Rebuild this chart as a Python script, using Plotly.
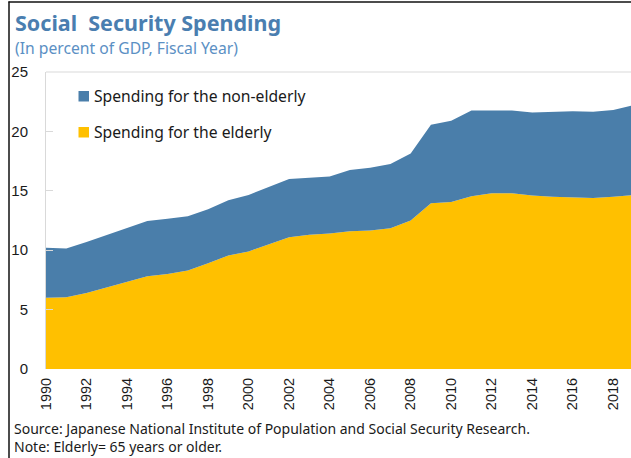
import plotly.graph_objects as go

# Fiscal years and spending shares (percent of GDP)
years = list(range(1990, 2020))
elderly = [6.0, 6.05, 6.4, 6.85, 7.3, 7.8, 8.0, 8.3, 8.9, 9.55,
           9.9, 10.5, 11.1, 11.3, 11.4, 11.6, 11.65, 11.85, 12.5, 13.95,
           14.05, 14.55, 14.8, 14.8, 14.6, 14.5, 14.45, 14.4, 14.5, 14.65]
non_elderly = [4.2, 4.1, 4.3, 4.45, 4.6, 4.65, 4.65, 4.55, 4.55, 4.65,
               4.75, 4.8, 4.9, 4.8, 4.8, 5.15, 5.3, 5.4, 5.65, 6.6,
               6.85, 7.2, 6.95, 6.95, 7.0, 7.15, 7.25, 7.25, 7.3, 7.55]
series_names = ["Spending for the non-elderly", "Spending for the elderly"]
y_ticks = [0, 5, 10, 15, 20, 25]
x_ticks = list(range(1990, 2019, 2))

BLUE = "#4A7EAA"
GOLD = "#FFC000"
FONT = "Noto Sans"

W, H = 631, 458
L, R, T, B = 46, 0, 72, 89
PW, PH = W - L - R, H - T - B


def px(x):
    return (x - L) / PW


def py(y):
    return (H - B - y) / PH


fig = go.Figure()
fig.add_trace(go.Scatter(
    x=years, y=elderly, name=series_names[1], mode="lines",
    stackgroup="s", line=dict(width=0, color=GOLD), fillcolor=GOLD,
    showlegend=False, hoverinfo="x+y"))
fig.add_trace(go.Scatter(
    x=years, y=non_elderly, name=series_names[0], mode="lines",
    stackgroup="s", line=dict(width=0, color=BLUE), fillcolor=BLUE,
    showlegend=False, hoverinfo="x+y"))

shapes = []
annotations = []

# key for the two areas
for i, (name, col) in enumerate(zip(series_names, [BLUE, GOLD])):
    cy = 96 + i * 36
    shapes.append(dict(type="rect", xref="paper", yref="paper",
                       x0=px(78.5), x1=px(89), y0=py(cy + 5.5), y1=py(cy - 5),
                       fillcolor=col, line=dict(width=0)))
    annotations.append(dict(text=name, xref="paper", yref="paper",
                            x=px(92), y=py(cy), xanchor="left", yanchor="middle",
                            showarrow=False, font=dict(family=FONT, size=15.7, color="#1a1a1a")))

# title block
annotations.append(dict(text="<b>Social  Security Spending</b>", xref="paper", yref="paper",
                        x=px(13), y=py(22), xanchor="left", yanchor="middle", showarrow=False,
                        font=dict(family=FONT, size=21.5, color="#4A7EB0")))
annotations.append(dict(text="(In percent of GDP, Fiscal Year)", xref="paper", yref="paper",
                        x=px(13), y=py(48), xanchor="left", yanchor="middle", showarrow=False,
                        font=dict(family=FONT, size=15.7, color="#5B90C4")))
# footnotes
annotations.append(dict(text="Source: Japanese National Institute of Population and Social Security Research."
                             "<br>Note: Elderly= 65 years or older.",
                        xref="paper", yref="paper", x=px(12), y=py(457.5), xanchor="left",
                        yanchor="bottom", align="left", showarrow=False,
                        font=dict(family=FONT, size=14, color="#1a1a1a")))

# outer frame (left and top) and plot top border
shapes.append(dict(type="line", xref="paper", yref="paper", x0=px(9), x1=px(9),
                   y0=py(H + 2), y1=py(1.5), line=dict(color="#111111", width=1.5)))
shapes.append(dict(type="line", xref="paper", yref="paper", x0=px(8.5), x1=px(W + 2),
                   y0=py(2), y1=py(2), line=dict(color="#111111", width=1.5)))
shapes.append(dict(type="line", xref="paper", yref="paper", x0=0, x1=1,
                   y0=1, y1=1, line=dict(color="#D9D9D9", width=1)))

fig.update_layout(
    width=W, height=H,
    margin=dict(l=L, r=R, t=T, b=B, pad=0),
    paper_bgcolor="white", plot_bgcolor="white",
    showlegend=False,
    shapes=shapes, annotations=annotations,
    font=dict(family=FONT, color="#1a1a1a"),
)
fig.update_xaxes(
    range=[1990, 1990 + PW / 20.26], tickvals=x_ticks, ticktext=[str(v) for v in x_ticks],
    tickangle=-90, showgrid=False, zeroline=False, showline=False, ticks="",
    ticklabelstandoff=5,
    tickfont=dict(family="Liberation Sans", size=14.5, color="#1a1a1a"),
)
fig.update_yaxes(
    range=[0, 25], tickvals=y_ticks, showgrid=False, zeroline=False,
    showline=True, linecolor="#D9D9D9", linewidth=1,
    ticks="inside", ticklen=7, tickcolor="#D9D9D9", tickwidth=1,
    ticklabelstandoff=14,
    tickfont=dict(family="Liberation Sans", size=15, color="#1a1a1a"),
)

fig.write_html("out.html")
